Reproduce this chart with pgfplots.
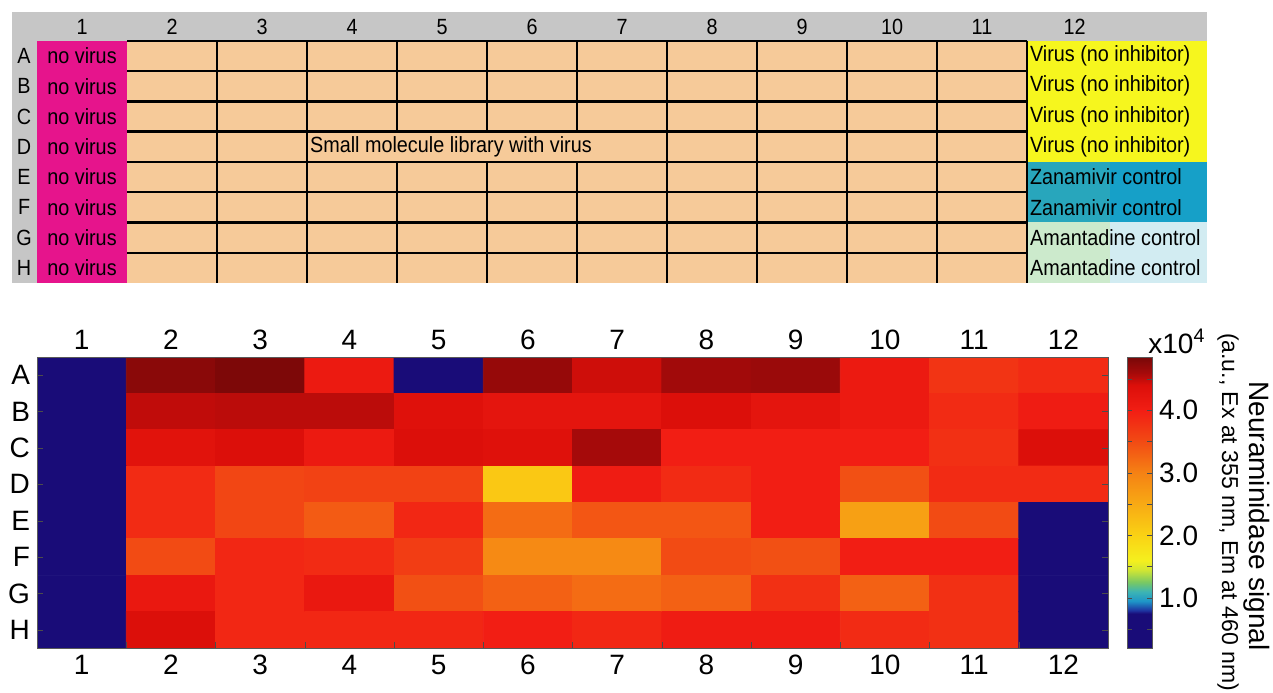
\documentclass[border=0pt]{standalone}
\usepackage{pgfplots}
\pgfplotsset{compat=1.18}
\usepackage{fontspec}
\setmainfont{Liberation Sans}
\definecolor{pinkc}{RGB}{230,20,140}
\definecolor{tanc}{RGB}{246,202,153}
\definecolor{yelc}{RGB}{246,246,30}
\definecolor{tealA}{RGB}{40,166,188}
\definecolor{tealB}{RGB}{22,160,200}
\definecolor{amg}{RGB}{204,234,204}
\definecolor{amc}{RGB}{210,236,242}
\definecolor{grayc}{RGB}{198,198,198}
\newcommand\fA{\fontsize{14}{16}\selectfont}
\newcommand\fT{\fontsize{11}{12}\selectfont}
\pgfplotsset{colormap={plate}{[1pt]
 rgb255(4pt)=(25,12,120); rgb255(15pt)=(25,12,120); rgb255(16pt)=(30,50,160);
 rgb255(19pt)=(30,150,200); rgb255(22pt)=(60,180,180); rgb255(25pt)=(120,200,100);
 rgb255(29pt)=(210,230,50); rgb255(32pt)=(245,240,30); rgb255(40pt)=(250,210,20);
 rgb255(50pt)=(248,170,20); rgb255(60pt)=(245,130,20); rgb255(70pt)=(242,75,20);
 rgb255(80pt)=(242,30,20); rgb255(88pt)=(220,15,10); rgb255(92pt)=(165,10,10);
 rgb255(97pt)=(120,8,8)}}
\begin{document}
\begin{tikzpicture}
\path[use as bounding box] (0,0) rectangle (636.5pt,346pt);
% ---------------- plate layout ----------------
\begin{axis}[at={(6pt,204.5pt)}, anchor=south west, scale only axis,
  width=597.5pt, height=135.5pt, xmin=0.222, xmax=13.5, ymin=-0.45, ymax=8.5,
  y dir=reverse, hide axis, clip=false, unbounded coords=jump]
\addplot[fill=grayc, draw=none] coordinates {(0.222,-0.45) (13.5,-0.45) (13.5,0.5) (0.222,0.5)} -- cycle;
\addplot[fill=grayc, draw=none] coordinates {(0.222,0.5) (0.5,0.5) (0.5,8.5) (0.222,8.5)} -- cycle;
\addplot[fill=pinkc, draw=none] coordinates {(0.5,0.5) (1.5,0.5) (1.5,8.5) (0.5,8.5)} -- cycle;
\addplot[fill=tanc, draw=none] coordinates {(1.5,0.5) (11.5,0.5) (11.5,8.5) (1.5,8.5)} -- cycle;
\addplot[fill=yelc, draw=none] coordinates {(11.5,0.5) (13.5,0.5) (13.5,4.5) (11.5,4.5)} -- cycle;
\addplot[fill=tealA, draw=none] coordinates {(11.5,4.5) (12.42,4.5) (12.42,6.5) (11.5,6.5)} -- cycle;
\addplot[fill=tealB, draw=none] coordinates {(12.42,4.5) (13.5,4.5) (13.5,6.5) (12.42,6.5)} -- cycle;
\addplot[fill=amg, draw=none] coordinates {(11.5,6.5) (12.42,6.5) (12.42,8.5) (11.5,8.5)} -- cycle;
\addplot[fill=amc, draw=none] coordinates {(12.42,6.5) (13.5,6.5) (13.5,8.5) (12.42,8.5)} -- cycle;
\addplot[black, line width=1.2pt] coordinates {
 (1.5,0.5)(11.5,0.5) (nan,nan) (1.5,1.5)(11.5,1.5) (nan,nan)
 (1.5,2.5)(11.5,2.5) (nan,nan) (1.5,3.5)(11.5,3.5) (nan,nan)
 (1.5,4.5)(11.5,4.5) (nan,nan) (1.5,5.5)(11.5,5.5) (nan,nan)
 (1.5,6.5)(11.5,6.5) (nan,nan) (1.5,7.5)(11.5,7.5) (nan,nan)
 (2.5,0.5)(2.5,8.5) (nan,nan) (3.5,0.5)(3.5,8.5) (nan,nan)
 (4.5,0.5)(4.5,3.5) (nan,nan) (4.5,4.5)(4.5,8.5) (nan,nan)
 (5.5,0.5)(5.5,3.5) (nan,nan) (5.5,4.5)(5.5,8.5) (nan,nan)
 (6.5,0.5)(6.5,3.5) (nan,nan) (6.5,4.5)(6.5,8.5) (nan,nan)
 (7.5,0.5)(7.5,8.5) (nan,nan) (8.5,0.5)(8.5,8.5) (nan,nan)
 (9.5,0.5)(9.5,8.5) (nan,nan) (10.5,0.5)(10.5,8.5) (nan,nan)
 (11.5,0.5)(11.5,8.5)};
\pgfplotsinvokeforeach{1,...,11}{\node[font=\fT, xscale=0.9] at (axis cs:#1,0.05) {#1};}
\node[font=\fT, xscale=0.9] at (axis cs:12.03,0.05) {12};
\pgfplotsinvokeforeach{1,...,8}{\node[font=\fT, xscale=0.9] at (axis cs:1,#1) {no virus};}
\node[font=\fT, xscale=0.9] at (axis cs:0.356,1) {A};
\node[font=\fT, xscale=0.9] at (axis cs:0.356,2) {B};
\node[font=\fT, xscale=0.9] at (axis cs:0.356,3) {C};
\node[font=\fT, xscale=0.9] at (axis cs:0.356,4) {D};
\node[font=\fT, xscale=0.9] at (axis cs:0.356,5) {E};
\node[font=\fT, xscale=0.9] at (axis cs:0.356,6) {F};
\node[font=\fT, xscale=0.9] at (axis cs:0.356,7) {G};
\node[font=\fT, xscale=0.9] at (axis cs:0.356,8) {H};
\pgfplotsinvokeforeach{1,...,4}{\node[font=\fT, xscale=0.9, anchor=west, inner sep=0pt] at (axis cs:11.53,#1) {Virus (no inhibitor)};}
\pgfplotsinvokeforeach{5,6}{\node[font=\fT, xscale=0.9, anchor=west, inner sep=0pt] at (axis cs:11.53,#1) {Zanamivir control};}
\pgfplotsinvokeforeach{7,8}{\node[font=\fT, xscale=0.9, anchor=west, inner sep=0pt] at (axis cs:11.53,#1) {Amantadine control};}
\node[font=\fT, xscale=0.9, anchor=west, inner sep=0pt] at (axis cs:3.53,4) {Small molecule library with virus};
\end{axis}
% ---------------- heat map ----------------
\begin{axis}[at={(18.5pt,22pt)}, anchor=south west, scale only axis,
  width=535.5pt, height=145.5pt, xmin=0.5, xmax=12.5, ymin=0.5, ymax=8.5,
  y dir=reverse, axis on top, enlargelimits=false,
  xtick={1,...,12}, xticklabels={1,2,3,4,5,6,7,8,9,10,11,12},
  ytick={1,...,8}, yticklabels={A,B,C,D,E,F,G,H},
  xtick pos=left, major x tick style={draw=none},
  minor xtick={1.5,2.5,...,11.5}, minor tick length=3pt,
  major tick length=3pt, tick align=inside,
  tick style={gray!60!black}, axis line style={gray!70!black},
  ticklabel style={font=\fA},
  colormap name=plate, point meta min=0.2, point meta max=4.85,
  colorbar,
  colorbar style={at={(parent axis.north east)}, anchor=north west, xshift=1pt,
    width=12.5pt, ytick={0.5,1,...,4.5}, yticklabels={,1.0,,2.0,,3.0,,4.0,},
    yticklabel style={font=\fA}, major tick length=2.5pt, tick align=inside,
    ytick pos=both, yticklabel pos=right,
    tick style={gray!60!black}, axis line style={gray!70!black}}]
\addplot[matrix plot*, mesh/cols=12, point meta=explicit] table[meta=z] {
x y z
1 1 0.3
2 1 4.75
3 1 4.82
4 1 4.1
5 1 0.3
6 1 4.68
7 1 4.45
8 1 4.62
9 1 4.66
10 1 4.1
11 1 3.75
12 1 3.85
1 2 0.3
2 2 4.5
3 2 4.52
4 2 4.52
5 2 4.35
6 2 4.25
7 2 4.25
8 2 4.4
9 2 4.25
10 2 4.1
11 2 3.85
12 2 4.05
1 3 0.3
2 3 4.3
3 3 4.4
4 3 4.1
5 3 4.4
6 3 4.35
7 3 4.6
8 3 4.0
9 3 4.0
10 3 4.0
11 3 3.8
12 3 4.4
1 4 0.3
2 4 3.85
3 4 3.55
4 4 3.6
5 4 3.6
6 4 2.12
7 4 4.05
8 4 3.85
9 4 4.0
10 4 3.45
11 4 3.85
12 4 3.85
1 5 0.3
2 5 3.85
3 5 3.55
4 5 3.35
5 5 3.9
6 5 3.2
7 5 3.4
8 5 3.4
9 5 4.0
10 5 2.62
11 5 3.5
12 5 0.3
1 6 0.3
2 6 3.5
3 6 3.9
4 6 3.85
5 6 3.65
6 6 2.9
7 6 2.9
8 6 3.5
9 6 3.45
10 6 4.0
11 6 4.0
12 6 0.3
1 7 0.3
2 7 4.15
3 7 3.9
4 7 4.15
5 7 3.45
6 7 3.3
7 7 3.2
8 7 3.3
9 7 3.8
10 7 3.3
11 7 3.8
12 7 0.3
1 8 0.3
2 8 4.4
3 8 3.9
4 8 3.9
5 8 3.9
6 8 4.0
7 8 3.9
8 8 4.05
9 8 4.05
10 8 3.85
11 8 3.8
12 8 0.3
};
\end{axis}
% top tick labels of the heat map
\begin{axis}[at={(18.5pt,22pt)}, anchor=south west, scale only axis,
  width=535.5pt, height=145.5pt, xmin=0.5, xmax=12.5, ymin=0.5, ymax=8.5,
  hide y axis, axis line style={draw=none}, xticklabel pos=upper,
  xtick={1,...,12}, xticklabels={1,2,3,4,5,6,7,8,9,10,11,12},
  major tick length=0pt, ticklabel style={font=\fA}]
\addplot[draw=none] coordinates {(1,1)};
\end{axis}
\node[anchor=base west, inner sep=0pt, font=\fA] at (574pt,169.5pt) {x10\textsuperscript{4}};
\node[rotate=-90, inner sep=0pt, font=\fA] at (628.5pt,88pt) {Neuraminidase signal};
\node[rotate=-90, inner sep=0pt, font=\fontsize{11.5}{12}\selectfont] at (614pt,90pt) {(a.u., Ex at 355 nm, Em at 460 nm)};
\end{tikzpicture}
\end{document}
